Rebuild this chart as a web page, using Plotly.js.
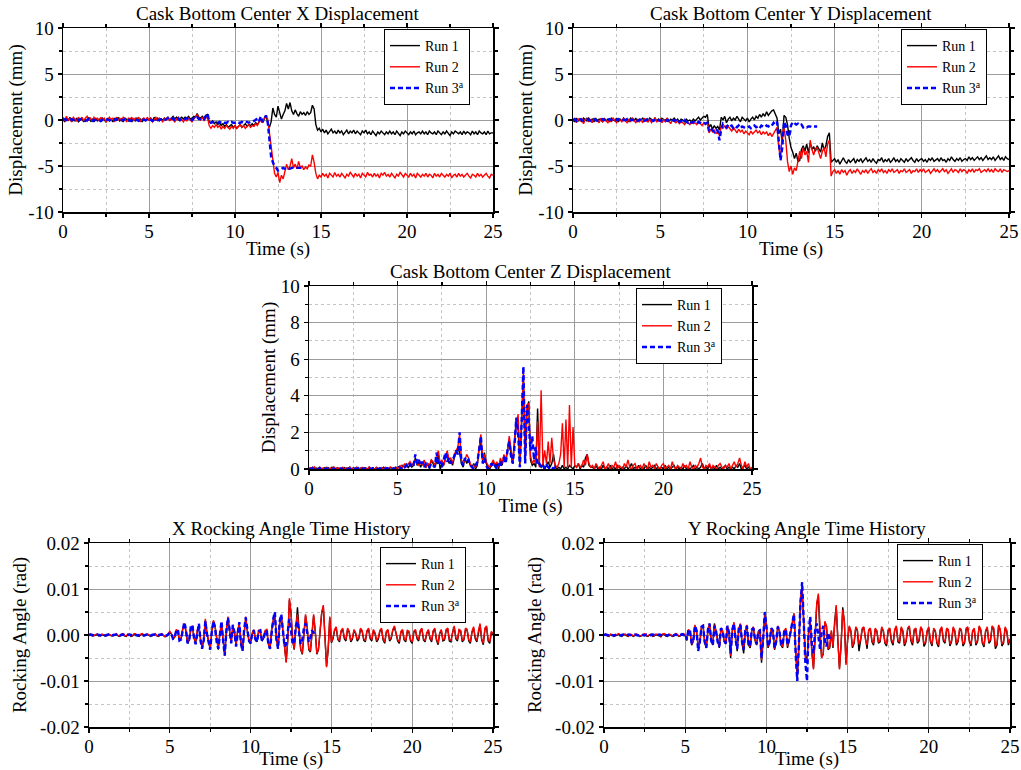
<!DOCTYPE html>
<html><head><meta charset="utf-8">
<script src="https://cdn.plot.ly/plotly-3.0.1.min.js"></script>
<style>html,body{margin:0;padding:0;background:#fff}#chart{width:1021px;height:770px}</style>
</head><body><div id="chart"></div>
<script>
// ---------- sampling grid (s) ----------
const timeStep = 0.1;
const time = []; for (let i = 0; i <= 250; i++) time.push(+(i * timeStep).toFixed(1));
const time3 = time.slice(0, 141); // Run 3 ends at 14 s

const seriesNames = ['Run 1', 'Run 2', 'Run 3<sup>a</sup>'];
const panelTitles = ['Cask Bottom Center X Displacement', 'Cask Bottom Center Y Displacement',
  'Cask Bottom Center Z Displacement', 'X Rocking Angle Time History', 'Y Rocking Angle Time History'];
const dispTickVals = [-10, -5, 0, 5, 10];
const dispTickText = ['-10', '-5', '0', '5', '10'];
const zTickVals = [0, 2, 4, 6, 8, 10];
const rockTickVals = [-0.02, -0.01, 0, 0.01, 0.02];
const rockTickText = ['-0.02', '-0.01', '0.00', '0.01', '0.02'];
const timeTickVals = [0, 5, 10, 15, 20, 25];

// ---------- X displacement (mm) ----------
const xDispRun1 = [
0.1,-0.2,0.2,-0.1,0.3,-0.2,0.1,-0.1,0.2,-0.2,
0.0,0.2,-0.2,0.1,-0.1,0.3,-0.1,0.1,-0.2,0.2,
-0.1,0.1,-0.2,0.2,0.0,-0.2,0.2,-0.1,0.1,-0.2,
0.2,-0.1,0.3,-0.1,0.1,-0.2,0.2,0.0,-0.1,0.2,
-0.2,0.1,-0.1,0.2,-0.1,0.1,-0.2,0.2,-0.1,0.1,
0.0,0.2,-0.1,0.3,0.0,0.2,-0.1,0.1,0.0,0.2,
0.1,0.3,0.0,0.2,0.4,0.1,0.3,0.0,0.2,0.3,
0.1,0.3,0.2,0.4,0.1,0.2,0.4,0.3,0.7,0.3,
0.2,0.4,0.2,0.5,0.6,-0.2,-0.3,-0.1,-0.4,-0.2,
-0.5,-0.3,-0.6,-0.4,-0.7,-0.5,-0.8,-0.6,-0.5,-0.8,
-0.6,-0.9,-0.7,-0.5,-0.8,-0.6,-0.4,-0.7,-0.5,-0.6,
-0.4,-0.6,-0.3,-0.5,-0.2,0.1,-0.3,0.2,0.5,-0.3,
-0.8,-0.2,1.3,0.6,0.3,1.5,0.9,0.1,0.6,1.0,
1.8,1.2,1.9,1.0,0.6,1.1,0.7,0.4,0.9,0.6,
0.8,0.5,0.9,0.6,0.8,1.6,1.2,-0.5,-1.1,-0.9,
-1.3,-1.0,-1.4,-1.1,-1.5,-1.2,-1.0,-1.4,-1.2,-1.5,
-1.1,-1.4,-1.2,-1.6,-1.3,-1.1,-1.5,-1.2,-1.4,-1.1,
-1.5,-1.2,-1.4,-1.6,-1.2,-1.4,-1.1,-1.5,-1.3,-1.6,
-1.2,-1.4,-1.7,-1.3,-1.5,-1.2,-1.4,-1.6,-1.3,-1.5,
-1.2,-1.5,-1.3,-1.6,-1.2,-1.4,-1.7,-1.3,-1.5,-1.2,
-1.4,-1.6,-1.3,-1.5,-1.2,-1.6,-1.4,-1.3,-1.5,-1.2,
-1.5,-1.3,-1.6,-1.2,-1.4,-1.5,-1.3,-1.6,-1.2,-1.4,
-1.6,-1.3,-1.5,-1.2,-1.4,-1.7,-1.3,-1.5,-1.2,-1.4,
-1.5,-1.3,-1.6,-1.2,-1.5,-1.3,-1.4,-1.6,-1.2,-1.5,
-1.3,-1.6,-1.2,-1.4,-1.5,-1.3,-1.6,-1.2,-1.5,-1.4,
-1.4];
const xDispRun2 = [
0.3,-0.1,0.4,0.0,0.2,-0.2,0.3,0.1,-0.1,0.3,
0.0,0.3,-0.1,0.2,0.4,0.0,0.2,-0.2,0.3,0.1,
0.2,-0.1,0.3,0.0,0.2,-0.2,0.1,0.3,0.0,0.2,
-0.2,0.3,0.0,0.2,-0.1,0.3,0.1,-0.2,0.2,0.0,
0.3,-0.1,0.2,0.0,0.3,-0.2,0.1,0.2,-0.1,0.3,
0.0,0.2,-0.2,0.1,0.3,-0.1,0.2,0.0,-0.2,0.2,
0.0,0.3,-0.1,0.2,0.0,-0.2,0.1,0.3,-0.1,0.1,
-0.2,0.1,-0.1,0.2,0.0,-0.2,0.1,0.3,0.6,0.2,
0.0,0.3,-0.1,0.2,0.3,-0.6,-0.9,-0.6,-0.8,-0.5,
-0.8,-0.6,-1.0,-0.7,-0.9,-0.6,-0.8,-1.0,-0.7,-0.9,
-0.6,-0.9,-0.7,-0.5,-0.8,-0.6,-0.9,-0.7,-0.5,-0.8,
-0.6,-0.7,-0.4,-0.6,-0.2,0.0,-0.3,0.2,0.4,0.1,
-1.5,-2.8,-4.5,-5.8,-6.2,-5.7,-6.8,-6.0,-6.4,-5.6,
-4.8,-5.4,-5.0,-4.2,-5.2,-4.8,-5.3,-4.5,-5.2,-5.0,
-5.4,-5.1,-5.3,-4.9,-5.0,-3.8,-4.6,-5.8,-6.4,-6.0,
-6.2,-5.8,-6.1,-5.9,-6.3,-5.8,-6.0,-6.2,-5.7,-6.1,
-5.9,-6.2,-5.8,-6.0,-6.3,-5.9,-6.1,-5.7,-6.0,-6.2,
-5.8,-6.1,-5.9,-6.3,-5.8,-6.0,-6.2,-5.7,-6.0,-5.9,
-6.2,-5.8,-6.1,-5.9,-6.3,-5.8,-6.0,-5.7,-6.1,-5.9,
-6.2,-5.8,-6.0,-6.3,-5.9,-6.1,-5.7,-6.0,-6.2,-5.8,
-6.0,-6.2,-5.8,-6.1,-5.9,-6.3,-5.8,-6.0,-6.2,-5.9,
-6.1,-5.8,-6.2,-5.9,-6.0,-6.3,-5.8,-6.1,-5.9,-6.2,
-5.8,-6.0,-6.2,-5.9,-6.1,-5.8,-6.3,-6.0,-5.9,-6.2,
-5.8,-6.1,-5.9,-6.2,-6.0,-5.8,-6.1,-6.3,-5.9,-6.0,
-6.2,-5.8,-6.1,-5.9,-6.2,-6.0,-5.8,-6.1,-6.3,-5.9,
-6.0];
const xDispRun3 = [
0.0,0.1,0.0,-0.1,0.0,0.1,0.0,0.0,-0.1,0.0,
0.1,0.0,0.0,-0.1,0.0,0.1,0.0,-0.1,0.0,0.0,
0.1,0.0,-0.1,0.0,0.0,0.1,0.0,0.0,-0.1,0.0,
0.0,0.1,0.0,-0.1,0.0,0.0,0.1,0.0,0.0,-0.1,
0.0,0.1,0.0,0.0,-0.1,0.0,0.1,0.0,0.0,0.0,
0.1,0.0,-0.1,0.0,0.1,0.0,0.0,0.1,0.0,0.0,
0.1,0.2,0.0,0.1,0.2,0.0,0.1,0.2,0.0,0.1,
0.0,0.1,0.2,0.0,0.1,0.0,0.2,0.1,0.3,0.1,
0.1,0.2,0.1,0.4,0.7,-0.1,-0.3,-0.2,-0.3,-0.2,
-0.3,-0.2,-0.3,-0.2,-0.3,-0.3,-0.2,-0.3,-0.2,-0.3,
-0.3,-0.2,-0.3,-0.3,-0.2,-0.3,-0.2,-0.2,-0.3,-0.2,
-0.2,-0.1,0.0,0.2,-0.1,0.4,-0.2,0.1,0.5,-0.2,
-2.5,-4.0,-4.6,-5.0,-5.2,-5.5,-5.4,-5.3,-5.2,-5.3,
-5.2,-5.2,-5.3,-5.2,-5.2,-5.2,-5.2,-5.2,-5.2,-5.2,
-5.2];

// ---------- Y displacement (mm) ----------
const yDispRun1 = [
0.1,-0.2,0.2,-0.1,0.1,-0.2,0.2,0.0,-0.1,0.2,
-0.1,0.1,-0.2,0.2,-0.1,0.1,0.0,-0.2,0.2,-0.1,
0.1,-0.2,0.2,0.0,-0.1,0.2,-0.2,0.1,-0.1,0.2,
-0.1,0.1,-0.2,0.2,0.0,-0.1,0.2,-0.2,0.1,0.0,
0.2,-0.1,0.1,-0.2,0.2,0.0,-0.1,0.2,-0.1,0.1,
-0.1,0.2,0.0,-0.1,0.2,-0.2,0.1,0.0,0.2,-0.1,
0.1,-0.2,0.1,0.0,-0.2,0.1,-0.1,0.0,-0.2,0.1,
-0.1,0.1,0.3,0.0,0.2,0.4,0.3,0.6,-0.8,-0.5,
-1.0,-0.6,-0.9,-0.7,-1.1,0.3,0.0,0.4,-0.3,0.1,
0.3,-0.1,0.2,0.0,0.4,0.1,-0.2,0.3,0.1,-0.1,
0.2,-0.2,0.1,0.3,0.0,0.4,0.2,0.6,0.3,0.7,
0.4,0.9,0.5,0.8,1.0,1.1,0.6,0.2,-1.5,-1.0,
-2.5,0.5,0.3,-0.5,-2.0,-3.0,-3.5,-4.2,-3.6,-4.5,
-4.4,-3.2,-2.8,-3.4,-2.6,-3.6,-2.5,-3.2,-2.9,-3.4,
-2.8,-3.2,-3.5,-2.5,-3.3,-2.8,-1.8,-1.4,-4.6,-4.4,
-4.2,-4.6,-4.3,-4.8,-4.4,-4.1,-4.5,-4.7,-4.3,-4.6,
-4.4,-4.2,-4.7,-4.3,-4.5,-4.2,-4.6,-4.4,-4.1,-4.5,
-4.3,-4.6,-4.2,-4.5,-4.7,-4.3,-4.4,-4.1,-4.6,-4.3,
-4.5,-4.2,-4.6,-4.4,-4.1,-4.5,-4.3,-4.6,-4.2,-4.4,
-4.6,-4.2,-4.5,-4.3,-4.1,-4.4,-4.6,-4.2,-4.5,-4.3,
-4.2,-4.5,-4.3,-4.6,-4.2,-4.4,-4.1,-4.5,-4.3,-4.2,
-4.5,-4.1,-4.4,-4.3,-4.6,-4.2,-4.4,-4.0,-4.3,-4.5,
-4.2,-4.4,-4.1,-4.5,-4.3,-4.2,-4.4,-4.0,-4.3,-4.1,
-4.4,-4.2,-4.0,-4.3,-4.1,-4.4,-4.2,-3.9,-4.3,-4.1,
-4.3,-4.0,-4.4,-4.2,-3.9,-4.3,-4.1,-4.4,-4.0,-4.2,
-4.3];
const yDispRun2 = [
-0.2,0.2,-0.3,0.1,-0.1,0.2,-0.4,0.0,0.2,-0.2,
0.1,-0.3,0.2,-0.1,0.0,-0.3,0.2,-0.2,0.1,-0.1,
-0.3,0.1,-0.2,0.2,-0.1,-0.3,0.1,0.0,-0.2,0.2,
-0.1,-0.3,0.1,-0.2,0.2,-0.1,-0.3,0.1,-0.2,0.0,
-0.3,0.2,-0.1,-0.2,0.1,-0.3,0.0,0.2,-0.2,-0.1,
0.1,-0.3,0.0,-0.2,0.2,-0.1,-0.4,0.0,-0.2,-0.3,
-0.1,-0.4,-0.2,-0.3,-0.5,-0.2,-0.3,-0.5,-0.2,-0.4,
-0.3,-0.5,-0.2,-0.4,-0.6,-0.3,-0.5,-0.2,-1.4,-1.0,
-1.3,-1.1,-1.5,-1.2,-1.7,-0.6,-0.9,-0.6,-1.0,-0.7,
-0.9,-1.2,-0.8,-1.1,-1.4,-1.0,-1.3,-1.1,-1.5,-1.2,
-1.4,-1.6,-1.2,-1.5,-1.3,-1.1,-1.4,-1.2,-1.6,-1.3,
-1.5,-1.3,-1.7,-1.4,-1.8,-1.5,-1.2,-0.8,-3.0,-4.2,
-1.5,-0.8,-2.2,-4.5,-5.6,-5.0,-5.9,-5.2,-5.5,-4.4,
-3.4,-4.2,-3.0,-3.8,-3.4,-4.6,-2.2,-3.2,-3.8,-3.1,
-3.0,-3.6,-4.2,-3.4,-3.0,-4.0,-2.6,-2.2,-6.1,-5.6,
-5.4,-5.8,-5.5,-5.9,-5.4,-5.7,-5.5,-6.0,-5.6,-5.4,
-5.8,-5.5,-5.7,-5.3,-5.6,-5.9,-5.5,-5.7,-5.4,-5.8,
-5.5,-5.3,-5.7,-5.5,-5.8,-5.4,-5.6,-5.3,-5.7,-5.5,
-5.8,-5.4,-5.6,-5.3,-5.7,-5.5,-5.4,-5.8,-5.5,-5.6,
-5.3,-5.7,-5.5,-5.4,-5.8,-5.5,-5.6,-5.3,-5.7,-5.4,
-5.6,-5.3,-5.7,-5.5,-5.4,-5.8,-5.5,-5.3,-5.6,-5.4,
-5.7,-5.5,-5.3,-5.6,-5.4,-5.8,-5.5,-5.3,-5.7,-5.4,
-5.5,-5.7,-5.3,-5.6,-5.4,-5.5,-5.8,-5.4,-5.6,-5.3,
-5.7,-5.4,-5.5,-5.3,-5.7,-5.5,-5.4,-5.6,-5.3,-5.6,
-5.4,-5.7,-5.3,-5.5,-5.6,-5.3,-5.7,-5.4,-5.5,-5.6,
-5.5];
const yDispRun3 = [
0.0,0.1,-0.1,0.0,0.1,0.0,-0.1,0.0,0.1,0.0,
-0.1,0.0,0.1,0.0,-0.1,0.0,0.0,0.1,0.0,-0.1,
0.0,0.1,0.0,-0.1,0.0,0.0,0.1,0.0,-0.1,0.0,
0.0,0.1,-0.1,0.0,0.0,0.1,0.0,-0.1,0.0,0.1,
0.0,-0.1,0.0,0.1,0.0,0.0,-0.1,0.0,0.1,0.0,
-0.1,0.0,0.1,0.0,-0.1,0.0,0.1,0.0,-0.1,0.0,
0.1,-0.2,-0.1,-0.2,0.0,-0.2,-0.3,-0.1,-0.3,-0.2,
-0.3,-0.4,-0.2,-0.3,-0.4,-0.3,-0.4,-0.3,-1.2,-0.9,
-1.1,-1.3,-1.0,-1.2,-2.2,-1.0,-0.4,-0.6,-0.8,-0.5,
-0.7,-0.6,-0.9,-0.7,-0.8,-0.6,-0.9,-0.7,-0.8,-0.9,
-0.8,-0.7,-0.9,-0.8,-0.6,-0.8,-0.7,-0.9,-0.6,-0.7,
-0.8,-0.6,-0.7,-0.5,-0.6,-0.3,-0.5,-0.2,-2.5,-4.4,
-3.0,-0.2,-0.6,-1.6,-1.8,-0.6,-0.2,-0.4,-0.5,-0.4,
-0.6,-0.5,-0.8,-0.7,-0.8,-0.7,-0.7,-0.8,-0.7,-0.7,
-0.7];

// ---------- Z displacement (mm) ----------
const zDispRun1 = [
0.05,0.0,0.1,0.0,0.05,0.0,0.1,0.02,0.0,0.08,
0.0,0.06,0.0,0.1,0.03,0.0,0.07,0.0,0.05,0.0,
0.08,0.0,0.04,0.1,0.0,0.06,0.0,0.09,0.0,0.05,
0.0,0.07,0.02,0.0,0.1,0.0,0.05,0.0,0.08,0.0,
0.06,0.0,0.1,0.0,0.04,0.0,0.08,0.02,0.0,0.1,
0.05,0.15,0.0,0.2,0.1,0.3,0.05,0.25,0.1,0.2,
0.6,0.2,0.4,0.1,0.3,0.2,0.1,0.3,0.0,0.5,
0.3,0.1,0.4,0.8,0.0,0.3,0.2,0.6,0.9,0.3,
0.5,0.2,0.6,1.0,1.1,0.9,0.3,0.1,0.6,0.3,
0.5,0.2,0.1,0.3,0.0,0.2,1.2,1.5,0.4,0.9,
0.3,0.1,0.0,0.2,0.4,0.1,0.3,0.0,0.5,0.2,
0.7,0.4,1.0,1.6,0.8,0.3,1.5,2.8,2.2,0.2,
2.5,5.0,0.5,3.2,3.7,0.5,0.2,0.3,0.1,3.3,
0.2,0.1,0.3,0.0,0.2,0.4,0.1,0.3,0.8,0.1,
0.0,0.1,0.0,0.2,0.0,0.1,0.0,0.2,0.1,0.0,
0.2,0.1,0.3,0.0,0.2,0.1,0.6,0.8,0.2,0.1,
0.1,0.0,0.2,0.0,0.1,0.0,0.2,0.0,0.1,0.0,
0.2,0.0,0.1,0.0,0.2,0.1,0.0,0.1,0.0,0.2,
0.0,0.1,0.3,0.0,0.1,0.0,0.2,0.0,0.1,0.0,
0.2,0.0,0.1,0.0,0.1,0.2,0.0,0.1,0.0,0.1,
0.0,0.2,0.0,0.1,0.0,0.1,0.2,0.0,0.1,0.0,
0.1,0.0,0.2,0.0,0.1,0.0,0.1,0.2,0.0,0.1,
0.0,0.1,0.3,0.0,0.1,0.0,0.2,0.0,0.1,0.0,
0.2,0.0,0.1,0.0,0.1,0.2,0.0,0.1,0.0,0.1,
0.0,0.2,0.1,0.3,0.0,0.1,0.2,0.0,0.1,0.0,
0.0];
const zDispRun2 = [
0.0,0.08,0.0,0.12,0.02,0.0,0.1,0.0,0.06,0.0,
0.1,0.0,0.05,0.0,0.12,0.0,0.07,0.02,0.0,0.1,
0.0,0.06,0.0,0.11,0.0,0.04,0.0,0.1,0.03,0.0,
0.09,0.0,0.05,0.0,0.12,0.0,0.06,0.0,0.1,0.02,
0.0,0.08,0.0,0.1,0.0,0.05,0.12,0.0,0.07,0.0,
0.1,0.05,0.2,0.1,0.3,0.15,0.25,0.4,0.2,0.35,
0.5,0.3,0.2,0.4,0.2,0.5,0.1,0.3,0.2,0.5,
0.4,0.2,0.6,1.0,0.3,0.5,0.2,0.7,1.0,0.5,
0.6,0.3,0.8,1.0,1.2,1.9,0.5,0.3,0.5,0.8,
0.6,0.3,0.1,0.2,0.1,0.3,1.3,1.9,0.5,0.8,
0.4,0.2,0.1,0.3,0.5,0.2,0.4,0.1,0.6,0.3,
0.8,0.5,1.0,1.8,1.0,0.4,1.6,2.2,3.0,0.3,
2.5,5.3,0.5,3.5,3.6,0.7,0.3,0.5,0.3,2.6,
0.1,4.3,0.2,1.0,0.3,1.5,0.3,1.7,0.5,0.2,
0.1,0.3,0.8,2.5,0.1,2.7,0.1,3.5,0.1,2.3,
0.2,0.1,0.3,0.1,0.2,0.5,0.2,0.8,0.3,0.1,
0.2,0.0,0.3,0.1,0.0,0.2,0.4,0.0,0.1,0.3,
0.0,0.2,0.1,0.4,0.0,0.2,0.1,0.0,0.3,0.1,
0.5,0.1,0.0,0.2,0.3,0.0,0.1,0.2,0.0,0.3,
0.1,0.0,0.4,0.1,0.2,0.0,0.3,0.1,0.0,0.2,
0.3,0.0,0.1,0.2,0.0,0.4,0.1,0.0,0.2,0.1,
0.0,0.3,0.1,0.2,0.0,0.4,0.1,0.0,0.2,0.1,
0.3,0.6,0.1,0.0,0.2,0.1,0.3,0.0,0.2,0.1,
0.0,0.2,0.3,0.1,0.0,0.2,0.1,0.3,0.0,0.2,
0.4,0.1,0.3,0.6,0.2,0.0,0.4,0.1,0.3,0.0,
0.1];
const zDispRun3 = [
0.02,0.0,0.05,0.0,0.03,0.0,0.04,0.0,0.02,0.0,
0.03,0.0,0.05,0.0,0.02,0.0,0.04,0.0,0.03,0.0,
0.05,0.0,0.02,0.0,0.04,0.0,0.03,0.0,0.05,0.0,
0.02,0.0,0.04,0.0,0.03,0.0,0.05,0.0,0.02,0.0,
0.04,0.0,0.03,0.0,0.05,0.0,0.02,0.0,0.04,0.0,
0.05,0.1,0.0,0.15,0.1,0.2,0.1,0.3,0.1,0.2,
0.8,0.3,0.5,0.2,0.4,0.1,0.3,0.2,0.1,0.3,
0.2,0.1,0.9,0.2,0.4,0.1,0.5,0.9,0.4,0.6,
0.3,0.5,0.7,1.0,0.8,2.0,0.4,0.2,0.6,0.4,
0.5,0.2,0.1,0.0,0.2,0.4,1.0,1.8,0.3,0.6,
0.2,0.0,0.1,0.3,0.1,0.2,0.0,0.3,0.1,0.5,
0.6,0.3,1.0,1.5,0.7,0.3,1.3,2.8,2.0,0.1,
2.6,5.6,0.3,3.5,2.5,1.0,1.8,0.5,1.2,0.2,
0.3,0.1,0.2,0.0,0.2,0.1,0.0,0.1,0.0,0.1,
0.0];

// ---------- X rocking angle (rad) ----------
const xRockRun1 = [
0.0000,0.0001,-0.0002,-0.0001,0.0001,0.0001,-0.0002,-0.0002,0.0001,0.0000,
-0.0002,-0.0001,0.0001,0.0000,-0.0002,-0.0002,0.0000,0.0001,-0.0002,-0.0003,
0.0001,0.0002,-0.0002,-0.0003,0.0001,0.0000,-0.0003,-0.0002,0.0002,0.0001,
-0.0002,-0.0003,0.0001,0.0002,-0.0002,-0.0001,0.0001,0.0000,-0.0003,-0.0002,
0.0001,0.0002,-0.0002,-0.0003,0.0000,0.0002,-0.0001,-0.0004,-0.0003,0.0001,
0.0006,0.0002,-0.0008,-0.0005,0.0010,0.0006,-0.0012,-0.0008,0.0012,0.0022,
0.0008,-0.0017,-0.0012,0.0012,0.0018,-0.0007,-0.0018,0.0008,0.0020,-0.0010,
-0.0027,-0.0012,0.0032,0.0003,-0.0018,-0.0032,0.0008,0.0030,0.0018,-0.0012,
-0.0032,0.0003,0.0022,-0.0012,-0.0043,0.0008,0.0037,0.0008,-0.0017,0.0018,
0.0006,-0.0022,0.0008,0.0022,-0.0017,-0.0032,0.0012,0.0037,0.0008,-0.0014,
-0.0018,0.0002,0.0010,-0.0010,-0.0015,0.0008,0.0006,-0.0013,-0.0008,0.0008,
0.0010,-0.0020,-0.0030,0.0010,0.0030,0.0045,-0.0010,-0.0030,0.0025,0.0040,
0.0008,-0.0022,-0.0058,-0.0012,0.0076,0.0048,-0.0012,-0.0032,0.0022,0.0060,
0.0012,-0.0032,-0.0042,0.0008,0.0042,0.0018,-0.0032,-0.0037,0.0012,0.0042,
0.0008,-0.0042,-0.0032,0.0018,0.0047,0.0062,-0.0012,-0.0068,-0.0032,0.0038,
-0.0017,-0.0008,0.0010,0.0015,-0.0010,-0.0015,0.0008,0.0012,-0.0008,-0.0013,
0.0012,0.0006,-0.0015,-0.0009,0.0010,0.0003,-0.0013,-0.0008,0.0012,0.0008,
-0.0011,-0.0015,0.0008,0.0012,-0.0008,-0.0013,0.0010,0.0003,-0.0015,-0.0009,
0.0008,0.0012,-0.0011,-0.0018,0.0006,0.0010,-0.0013,-0.0008,0.0010,0.0017,
0.0003,-0.0013,-0.0018,0.0006,0.0010,-0.0011,-0.0015,0.0008,0.0006,-0.0013,
-0.0018,0.0006,0.0010,-0.0008,-0.0013,0.0008,0.0012,-0.0011,-0.0015,0.0003,
0.0010,-0.0008,-0.0015,0.0008,0.0012,-0.0011,-0.0021,0.0003,0.0010,-0.0013,
-0.0011,0.0010,0.0012,-0.0013,-0.0015,0.0006,0.0017,-0.0008,-0.0013,0.0010,
0.0008,-0.0015,-0.0011,0.0012,0.0010,-0.0013,-0.0018,0.0006,0.0015,-0.0008,
-0.0015,0.0008,0.0022,-0.0011,-0.0021,0.0012,0.0017,-0.0013,-0.0018,0.0006,
0.0000];
const xRockRun2 = [
0.0001,0.0002,-0.0001,-0.0002,0.0001,0.0002,-0.0001,-0.0001,0.0002,0.0001,
-0.0001,-0.0002,0.0002,0.0001,-0.0002,-0.0001,0.0001,0.0003,-0.0001,-0.0002,
0.0002,0.0003,-0.0001,-0.0002,0.0002,0.0001,-0.0002,-0.0001,0.0003,0.0002,
-0.0001,-0.0002,0.0002,0.0003,-0.0001,0.0000,0.0002,0.0001,-0.0002,-0.0001,
0.0002,0.0003,-0.0001,-0.0002,0.0001,0.0003,0.0000,-0.0003,-0.0002,0.0002,
0.0008,0.0003,-0.0006,-0.0004,0.0012,0.0008,-0.0010,-0.0006,0.0015,0.0025,
0.0010,-0.0015,-0.0010,0.0015,0.0020,-0.0005,-0.0015,0.0010,0.0022,-0.0008,
-0.0025,-0.0010,0.0035,0.0005,-0.0015,-0.0030,0.0010,0.0032,0.0020,-0.0010,
-0.0030,0.0005,0.0025,-0.0010,-0.0045,0.0010,0.0040,0.0010,-0.0015,0.0020,
0.0008,-0.0020,0.0010,0.0025,-0.0015,-0.0030,0.0015,0.0040,0.0010,-0.0010,
-0.0015,0.0005,0.0012,-0.0008,-0.0012,0.0010,0.0008,-0.0010,-0.0005,0.0010,
0.0012,-0.0018,-0.0028,0.0012,0.0032,0.0048,-0.0008,-0.0028,0.0028,0.0042,
0.0010,-0.0020,-0.0060,-0.0010,0.0080,0.0050,-0.0010,-0.0030,0.0020,0.0045,
0.0010,-0.0030,-0.0040,0.0010,0.0045,0.0020,-0.0030,-0.0035,0.0015,0.0045,
0.0010,-0.0040,-0.0030,0.0020,0.0050,0.0065,-0.0010,-0.0070,-0.0030,0.0040,
-0.0015,-0.0005,0.0012,0.0018,-0.0008,-0.0012,0.0010,0.0015,-0.0005,-0.0010,
0.0015,0.0008,-0.0012,-0.0006,0.0012,0.0005,-0.0010,-0.0005,0.0015,0.0010,
-0.0008,-0.0012,0.0010,0.0015,-0.0005,-0.0010,0.0012,0.0005,-0.0012,-0.0006,
0.0010,0.0015,-0.0008,-0.0015,0.0008,0.0012,-0.0010,-0.0005,0.0012,0.0020,
0.0005,-0.0010,-0.0015,0.0008,0.0012,-0.0008,-0.0012,0.0010,0.0008,-0.0010,
-0.0015,0.0008,0.0012,-0.0005,-0.0010,0.0010,0.0015,-0.0008,-0.0012,0.0005,
0.0012,-0.0005,-0.0012,0.0010,0.0015,-0.0008,-0.0018,0.0005,0.0012,-0.0010,
-0.0008,0.0012,0.0015,-0.0010,-0.0012,0.0008,0.0020,-0.0005,-0.0010,0.0012,
0.0010,-0.0012,-0.0008,0.0015,0.0012,-0.0010,-0.0015,0.0008,0.0018,-0.0005,
-0.0012,0.0010,0.0025,-0.0008,-0.0018,0.0015,0.0020,-0.0010,-0.0015,0.0008,
0.0003];
const xRockRun3 = [
0.0000,0.0001,0.0000,-0.0001,0.0000,0.0001,0.0000,-0.0001,0.0001,0.0000,
-0.0001,0.0000,0.0001,0.0000,-0.0001,0.0000,0.0001,0.0001,0.0000,-0.0001,
0.0000,0.0001,0.0000,-0.0001,0.0000,0.0001,0.0000,-0.0001,0.0001,0.0000,
-0.0001,0.0000,0.0001,0.0000,-0.0001,0.0000,0.0001,0.0000,-0.0001,0.0000,
0.0001,0.0000,-0.0001,0.0000,0.0001,0.0001,0.0000,-0.0002,-0.0001,0.0001,
0.0005,0.0002,-0.0008,-0.0006,0.0010,0.0012,-0.0012,-0.0010,0.0010,0.0028,
0.0012,-0.0018,-0.0012,0.0018,0.0022,-0.0008,-0.0020,0.0008,0.0025,-0.0012,
-0.0030,-0.0012,0.0030,0.0002,-0.0018,-0.0032,0.0008,0.0030,0.0015,-0.0015,
-0.0030,0.0002,0.0030,-0.0012,-0.0045,0.0008,0.0038,0.0012,-0.0018,0.0022,
0.0006,-0.0025,0.0008,0.0028,-0.0018,-0.0035,0.0012,0.0038,0.0012,-0.0012,
-0.0018,0.0003,0.0010,-0.0010,-0.0015,0.0008,0.0010,-0.0012,-0.0008,0.0006,
0.0010,-0.0020,-0.0030,0.0010,0.0035,0.0050,-0.0010,-0.0030,0.0030,0.0045,
0.0010,-0.0025,-0.0020,0.0015,0.0035,0.0010,-0.0020,-0.0015,0.0020,0.0030,
0.0005,-0.0020,-0.0010,0.0015,0.0025,0.0000,-0.0015,-0.0005,0.0010,0.0005,
0.0000];

// ---------- Y rocking angle (rad) ----------
const yRockRun1 = [
0.0000,0.0001,-0.0002,-0.0003,0.0001,0.0000,-0.0003,-0.0002,0.0000,0.0002,
-0.0001,-0.0003,0.0000,0.0001,-0.0002,-0.0003,0.0001,0.0000,-0.0003,-0.0001,
0.0001,0.0000,-0.0003,-0.0002,0.0001,0.0002,-0.0002,-0.0003,0.0000,0.0001,
-0.0003,-0.0002,0.0001,0.0000,-0.0002,-0.0004,0.0001,0.0002,-0.0002,-0.0003,
0.0001,0.0000,-0.0003,-0.0002,0.0002,0.0001,-0.0003,-0.0002,0.0001,0.0002,
-0.0001,-0.0012,0.0010,0.0006,-0.0022,-0.0014,0.0020,0.0008,-0.0028,-0.0018,
0.0016,0.0020,-0.0018,-0.0028,0.0010,0.0022,-0.0012,-0.0022,0.0025,0.0006,
-0.0018,-0.0028,0.0012,0.0008,-0.0014,-0.0020,0.0018,0.0003,-0.0050,0.0008,
0.0025,-0.0012,-0.0035,0.0012,0.0022,-0.0018,-0.0040,0.0008,0.0020,-0.0022,
-0.0028,0.0010,0.0016,-0.0012,-0.0022,0.0006,0.0010,-0.0060,-0.0012,0.0045,
0.0018,-0.0028,-0.0018,0.0012,0.0008,-0.0032,-0.0018,0.0018,0.0008,-0.0022,
-0.0028,0.0008,0.0012,-0.0028,-0.0012,0.0008,0.0028,0.0045,-0.0035,-0.0095,
-0.0025,0.0075,0.0100,0.0015,-0.0045,-0.0055,0.0005,0.0030,-0.0038,-0.0072,
0.0008,0.0065,0.0085,-0.0002,-0.0048,-0.0042,0.0028,0.0018,-0.0032,-0.0028,
0.0008,-0.0028,0.0028,0.0062,-0.0012,-0.0072,-0.0022,0.0060,0.0028,-0.0062,
-0.0012,0.0018,0.0008,-0.0028,-0.0018,0.0015,0.0010,-0.0035,-0.0012,0.0012,
0.0016,-0.0012,-0.0030,0.0010,0.0013,-0.0015,-0.0022,0.0012,0.0008,-0.0018,
-0.0015,0.0016,0.0008,-0.0018,-0.0024,0.0010,0.0012,-0.0014,-0.0022,0.0010,
0.0018,-0.0015,-0.0018,0.0015,0.0008,-0.0024,-0.0015,0.0012,0.0018,-0.0013,
-0.0022,0.0010,0.0012,-0.0018,-0.0013,0.0015,0.0010,-0.0025,-0.0018,0.0008,
0.0015,-0.0015,-0.0024,0.0012,0.0008,-0.0018,-0.0026,0.0010,0.0015,-0.0013,
-0.0018,0.0012,0.0010,-0.0024,-0.0015,0.0015,0.0008,-0.0022,-0.0015,0.0012,
0.0010,-0.0024,-0.0018,0.0012,0.0015,-0.0015,-0.0024,0.0008,0.0012,-0.0022,
-0.0015,0.0018,0.0010,-0.0018,-0.0026,0.0008,0.0015,-0.0018,-0.0013,0.0018,
0.0012,-0.0030,-0.0022,0.0020,0.0010,-0.0024,-0.0018,0.0015,0.0008,-0.0022,
-0.0010];
const yRockRun2 = [
0.0001,0.0002,-0.0001,-0.0002,0.0002,0.0001,-0.0002,-0.0001,0.0001,0.0003,
0.0000,-0.0002,0.0001,0.0002,-0.0001,-0.0002,0.0002,0.0001,-0.0002,0.0000,
0.0002,0.0001,-0.0002,-0.0001,0.0002,0.0003,-0.0001,-0.0002,0.0001,0.0002,
-0.0002,-0.0001,0.0002,0.0001,-0.0001,-0.0003,0.0002,0.0003,-0.0001,-0.0002,
0.0002,0.0001,-0.0002,-0.0001,0.0003,0.0002,-0.0002,-0.0001,0.0002,0.0003,
0.0000,-0.0010,0.0012,0.0008,-0.0020,-0.0012,0.0022,0.0010,-0.0025,-0.0015,
0.0018,0.0022,-0.0015,-0.0025,0.0012,0.0025,-0.0010,-0.0020,0.0022,0.0008,
-0.0015,-0.0025,0.0015,0.0010,-0.0012,-0.0018,0.0020,0.0005,-0.0045,0.0010,
0.0028,-0.0010,-0.0030,0.0015,0.0025,-0.0015,-0.0030,0.0010,0.0022,-0.0020,
-0.0025,0.0012,0.0018,-0.0010,-0.0020,0.0008,0.0012,-0.0055,-0.0010,0.0048,
0.0020,-0.0025,-0.0015,0.0015,0.0010,-0.0030,-0.0015,0.0020,0.0010,-0.0020,
-0.0025,0.0010,0.0015,-0.0025,-0.0010,0.0010,0.0030,0.0048,-0.0030,-0.0090,
-0.0020,0.0080,0.0105,0.0010,-0.0050,-0.0060,0.0000,0.0030,-0.0040,-0.0075,
0.0010,0.0070,0.0090,0.0000,-0.0050,-0.0040,0.0030,0.0020,-0.0030,-0.0025,
0.0010,-0.0025,0.0030,0.0065,-0.0010,-0.0075,-0.0020,0.0055,0.0030,-0.0065,
-0.0010,0.0020,0.0010,-0.0025,-0.0015,0.0018,0.0012,-0.0020,-0.0010,0.0015,
0.0018,-0.0010,-0.0022,0.0012,0.0015,-0.0012,-0.0018,0.0015,0.0010,-0.0015,
-0.0012,0.0018,0.0010,-0.0015,-0.0020,0.0012,0.0015,-0.0010,-0.0018,0.0012,
0.0020,-0.0012,-0.0015,0.0018,0.0010,-0.0020,-0.0012,0.0015,0.0020,-0.0010,
-0.0018,0.0012,0.0015,-0.0015,-0.0010,0.0018,0.0012,-0.0020,-0.0015,0.0010,
0.0018,-0.0012,-0.0020,0.0015,0.0010,-0.0015,-0.0022,0.0012,0.0018,-0.0010,
-0.0015,0.0015,0.0012,-0.0020,-0.0012,0.0018,0.0010,-0.0018,-0.0012,0.0015,
0.0012,-0.0020,-0.0015,0.0015,0.0018,-0.0012,-0.0020,0.0010,0.0015,-0.0018,
-0.0012,0.0020,0.0012,-0.0015,-0.0022,0.0010,0.0018,-0.0015,-0.0010,0.0020,
0.0015,-0.0025,-0.0018,0.0022,0.0012,-0.0020,-0.0015,0.0018,0.0010,-0.0018,
-0.0008];
const yRockRun3 = [
0.0000,0.0001,0.0000,-0.0001,0.0001,0.0000,-0.0001,0.0000,0.0001,0.0000,
-0.0001,0.0000,0.0001,0.0000,-0.0001,0.0001,0.0000,-0.0001,0.0000,0.0001,
0.0000,-0.0001,0.0000,0.0001,0.0000,-0.0001,0.0001,0.0000,-0.0001,0.0000,
0.0001,0.0000,-0.0001,0.0000,0.0001,0.0000,-0.0001,0.0001,0.0000,-0.0001,
0.0000,0.0001,0.0000,-0.0001,0.0001,0.0000,-0.0001,0.0000,0.0002,0.0000,
0.0002,-0.0010,0.0012,0.0008,-0.0018,-0.0012,0.0020,0.0010,-0.0035,-0.0015,
0.0018,0.0020,-0.0015,-0.0028,0.0012,0.0025,-0.0012,-0.0022,0.0020,0.0008,
-0.0015,-0.0025,0.0015,0.0010,-0.0012,-0.0018,0.0020,0.0005,-0.0040,0.0012,
0.0025,-0.0010,-0.0030,0.0015,0.0022,-0.0015,-0.0032,0.0010,0.0020,-0.0020,
-0.0025,0.0012,0.0015,-0.0010,-0.0020,0.0008,0.0010,-0.0050,-0.0010,0.0050,
0.0020,-0.0025,-0.0015,0.0015,0.0010,-0.0028,-0.0015,0.0018,0.0010,-0.0020,
-0.0022,0.0010,0.0012,-0.0022,-0.0010,0.0010,0.0030,0.0045,-0.0040,-0.0100,
-0.0020,0.0070,0.0115,0.0020,-0.0060,-0.0100,0.0010,0.0040,-0.0020,-0.0040,
0.0010,0.0025,-0.0010,-0.0030,0.0005,0.0020,-0.0010,-0.0025,0.0005,-0.0010,
-0.0005];

// ---------- build figure ----------
const FONT = 'Liberation Serif';
const colors = ['#000000', '#ff0000', '#0000ff'];
const W = 1021, H = 770;
// plot boxes in pixels: [left, right, top, bottom]
const boxes = [[63, 493, 28, 212], [573, 1009, 28, 212], [309, 752, 286, 469], [89, 493, 543, 727], [604, 1010, 543, 727]];
const legendBoxes = [[384, 29], [901, 29], [636, 288], [380, 547], [897, 544]];

const panelData = [
  [xDispRun1, xDispRun2, xDispRun3],
  [yDispRun1, yDispRun2, yDispRun3],
  [zDispRun1, zDispRun2, zDispRun3],
  [xRockRun1, xRockRun2, xRockRun3],
  [yRockRun1, yRockRun2, yRockRun3]
];

const traces = [];
panelData.forEach((runs, p) => {
  const sfx = p === 0 ? '' : String(p + 1);
  runs.forEach((vals, r) => {
    traces.push({
      type: 'scatter', mode: 'lines', name: seriesNames[r],
      x: r === 2 ? time3 : time, y: vals,
      xaxis: 'x' + sfx, yaxis: 'y' + sfx,
      legend: 'legend' + sfx,
      line: { color: colors[r], width: r === 2 ? 2.4 : 1.4, dash: r === 2 ? '5px,3px' : 'solid' }
    });
  });
});

function axisBase() {
  return {
    showline: true, linecolor: '#000', linewidth: 1.5, mirror: 'ticks',
    ticks: 'outside', ticklen: 4, tickwidth: 1.2, tickcolor: '#000',
    showgrid: true, gridcolor: '#9c9c9c', gridwidth: 1, zeroline: false,
    tickfont: { family: FONT, size: 19, color: '#000' },
    fixedrange: true
  };
}

const layout = {
  width: W, height: H, margin: { l: 0, r: 0, t: 0, b: 0 },
  paper_bgcolor: '#fff', plot_bgcolor: '#fff',
  font: { family: FONT, color: '#000', size: 14 },
  annotations: []
};

const yTitles = ['Displacement (mm)', 'Displacement (mm)', 'Displacement (mm)', 'Rocking Angle (rad)', 'Rocking Angle (rad)'];
const yStandoff = [0, 0, 0, 8, 8];

boxes.forEach((b, p) => {
  const sfx = p === 0 ? '' : String(p + 1);
  const xa = axisBase(), ya = axisBase();
  Object.assign(xa, {
    domain: [b[0] / W, b[1] / W], anchor: 'y' + sfx, range: [0, 25],
    tickvals: timeTickVals, ticklabelstandoff: -2,
    minor: { tickvals: [2.5, 7.5, 12.5, 17.5, 22.5], showgrid: true, gridcolor: '#c4c4c4', griddash: 'dot', ticks: 'outside', ticklen: 3, tickcolor: '#000' },
    title: { text: 'Time (s)', font: { family: FONT, size: 19, color: '#000' }, standoff: 0 }
  });
  let yr, tv, tt, mv;
  if (p < 2) { yr = [-10, 10]; tv = dispTickVals; tt = dispTickText; mv = [-7.5, -2.5, 2.5, 7.5]; }
  else if (p === 2) { yr = [0, 10]; tv = zTickVals; tt = zTickVals.map(String); mv = [1, 3, 5, 7, 9]; }
  else { yr = [-0.02, 0.02]; tv = rockTickVals; tt = rockTickText; mv = [-0.015, -0.005, 0.005, 0.015]; }
  Object.assign(ya, {
    domain: [1 - b[3] / H, 1 - b[2] / H], anchor: 'x' + sfx, range: yr,
    tickvals: tv, ticktext: tt,
    minor: { tickvals: mv, showgrid: true, gridcolor: '#c4c4c4', griddash: 'dot', ticks: 'outside', ticklen: 3, tickcolor: '#000' },
    title: { text: yTitles[p], font: { family: FONT, size: 19, color: '#000' }, standoff: yStandoff[p] }
  });
  layout['xaxis' + sfx] = xa;
  layout['yaxis' + sfx] = ya;
  layout['legend' + sfx] = {
    x: legendBoxes[p][0] / W, y: 1 - legendBoxes[p][1] / H, xanchor: 'left', yanchor: 'top',
    xref: 'paper', yref: 'paper',
    bgcolor: '#fff', bordercolor: '#000', borderwidth: 1,
    font: { family: FONT, size: 14, color: '#000' }, tracegroupgap: 0, itemwidth: 30
  };
  layout.annotations.push({
    text: panelTitles[p], xref: 'paper', yref: 'paper',
    x: (b[0] + b[1]) / 2 / W, y: 1 - (b[2] - 2) / H, xanchor: 'center', yanchor: 'bottom',
    showarrow: false, font: { family: FONT, size: 19, color: '#000' }
  });
});

Plotly.newPlot('chart', traces, layout, { displayModeBar: false, staticPlot: true });
</script>
</body></html>
